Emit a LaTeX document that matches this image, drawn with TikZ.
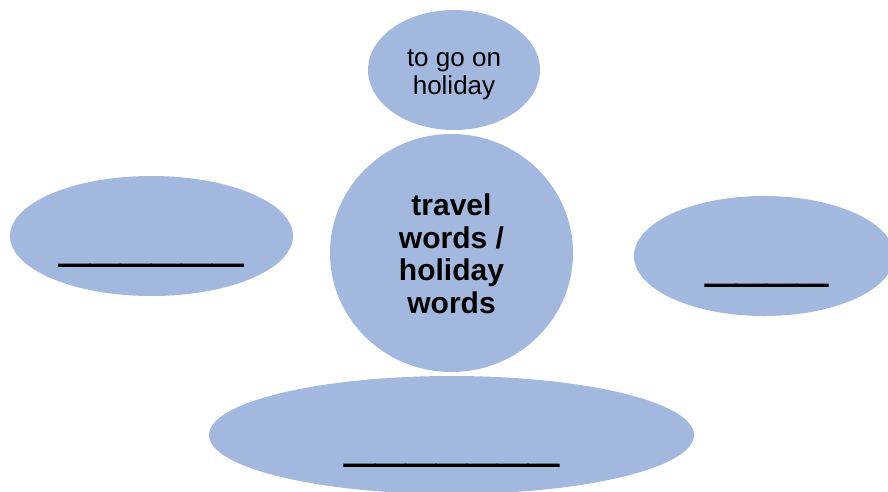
\documentclass[tikz,border=0pt]{standalone}
\usepackage{fontspec}
\setmainfont{Liberation Sans}
\newfontfamily\blankfont[FakeBold=2]{Liberation Sans Bold}
\usetikzlibrary{shapes.geometric}
\definecolor{bubble}{RGB}{162,184,223}
\tikzset{
  bubble/.style={ellipse, fill=bubble, draw=none, inner sep=0pt},
  blank/.style={anchor=base, inner sep=0pt, font=\blankfont\fontsize{55}{60}\selectfont},
}
\begin{document}
\begin{tikzpicture}[x=1pt,y=-1pt]
  \useasboundingbox (0,0) rectangle (888,491);
  \clip (0,0) rectangle (888,491);
  % bubbles
  \node[bubble, minimum width=172pt, minimum height=120pt] (top) at (454,70) {};
  \node[bubble, minimum width=243pt, minimum height=238pt] (hub) at (451.5,253) {};
  \node[bubble, minimum width=283pt, minimum height=120pt] (left) at (151.5,236) {};
  \node[bubble, minimum width=260pt, minimum height=120pt] (right) at (764,256) {};
  \node[bubble, minimum width=485pt, minimum height=118pt] (bottom) at (451.5,435) {};
  % texts
  \node[align=center, inner sep=0pt, font=\fontsize{26}{28}\selectfont] (toptext) at (454,75) {to go on\\holiday};
  \node[align=center, inner sep=0pt, font=\fontsize{30}{32.5}\selectfont\bfseries] (hubtext) at (451.5,254) {travel\\words /\\holiday\\words};
  \node[blank] (leftblank) at (151,259.6) {\_\_\_\_\_\_};
  \node[blank] (rightblank) at (766.5,279.6) {\_\_\_\_};
  \node[blank] (bottomblank) at (451.5,459.6) {\_\_\_\_\_\_\_};
\end{tikzpicture}
\end{document}
